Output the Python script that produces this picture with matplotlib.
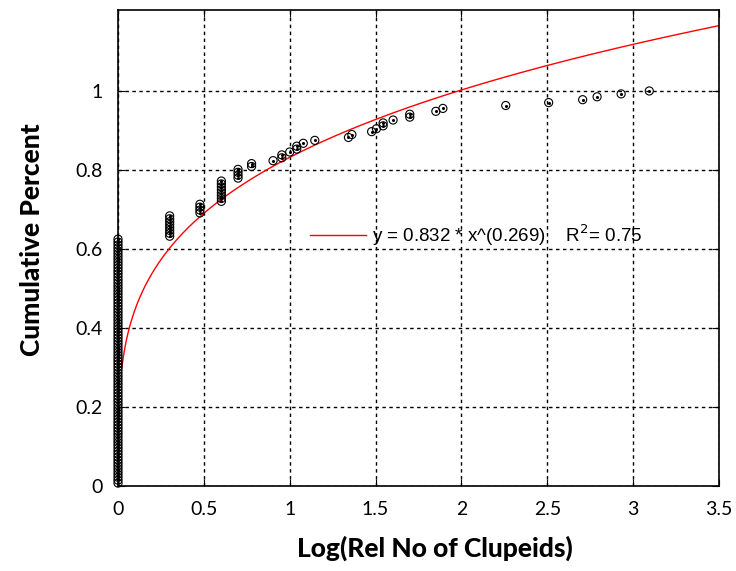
import matplotlib.pyplot as plt
import numpy as np

# log10 of relative number of clupeids, and how many samples share each value
log_rel_no = [0.0, 0.301, 0.477, 0.602, 0.699, 0.778, 0.903, 0.954, 1.0, 1.041,
              1.079, 1.146, 1.342, 1.362, 1.477, 1.505, 1.544, 1.602, 1.699,
              1.851, 1.892, 2.258, 2.508, 2.706, 2.79, 2.93, 3.094]
counts = [85, 8, 4, 8, 4, 2, 1, 2, 1, 2,
          1, 1, 1, 1, 1, 1, 2, 1, 2,
          1, 1, 1, 1, 1, 1, 1, 1]

# power fit shown in the legend
fit_a = 0.832
fit_b = 0.269
fit_r2 = 0.75

x = np.repeat(log_rel_no, counts)
y = np.cumsum(np.ones(len(x))) / len(x)

fig = plt.figure(figsize=(7.36, 5.71), dpi=100)
ax = fig.add_axes([118 / 736, 85 / 571, 601 / 736, 476 / 571])

xf = np.linspace(0.022, 3.5, 400)
ax.plot(xf, fit_a * xf ** fit_b, color='red', lw=1,
        label='y = %.3f * x^(%.3f)    R$^2$= %.2f' % (fit_a, fit_b, fit_r2))

ax.scatter(x, y, s=34, facecolors='none', edgecolors='black', linewidths=0.8,
           zorder=3, clip_on=False)
ax.scatter(x, y, s=1.5, color='black', zorder=4, clip_on=False)

ax.set_xlim(0, 3.5)
ax.set_ylim(0, 1.205)
ax.set_xticks([0, 0.5, 1, 1.5, 2, 2.5, 3, 3.5])
ax.set_xticklabels(['0', '0.5', '1', '1.5', '2', '2.5', '3', '3.5'])
ax.set_yticks([0, 0.2, 0.4, 0.6, 0.8, 1])
ax.set_yticklabels(['0', '0.2', '0.4', '0.6', '0.8', '1'])
ax.grid(True, color='black', linestyle=(0, (2.5, 2.5)), lw=1)
ax.tick_params(direction='in', length=5, top=True, right=True, labelsize=14, pad=11)
for lab in ax.get_xticklabels() + ax.get_yticklabels():
    lab.set_family('Lato')
for sp in ax.spines.values():
    sp.set_linewidth(1.2)

ax.set_xlabel('Log(Rel No of Clupeids)', fontsize=19, fontweight='black', family='Lato')
ax.set_ylabel('Cumulative Percent', fontsize=19, fontweight='black', family='Lato')
ax.xaxis.set_label_coords((435 - 118) / 601, -(536 - 486) / 476)
ax.yaxis.set_label_coords(-(118 - 44) / 601, (486 - 240) / 476)

ax.legend(loc='center left', bbox_to_anchor=((293 - 118) / 601, (486 - 235) / 476),
          frameon=False, handlelength=3.0, handletextpad=0.3,
          prop={'family': 'Liberation Sans', 'size': 13.5})

fig.savefig('out.png', dpi=100)
